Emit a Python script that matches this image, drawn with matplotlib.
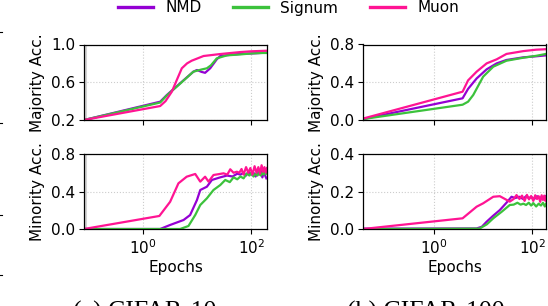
import matplotlib
matplotlib.use("Agg")
import matplotlib.pyplot as plt
from matplotlib.ticker import NullLocator
from matplotlib.lines import Line2D

# ---------------- data ----------------
series_names = ["NMD", "Signum", "Muon"]
colors = {"NMD": "#9400D3", "Signum": "#3CC23C", "Muon": "#FF1493"}

# CIFAR-10 majority accuracy
c10_maj_nmd_x = [0.081, 2.07, 2.75, 4.84, 8.5, 9.9, 12, 14, 17.4, 23, 26.7, 40, 63, 100, 150, 195]
c10_maj_nmd_y = [0.20, 0.394, 0.465, 0.589, 0.712, 0.73, 0.71, 0.70, 0.748, 0.843, 0.878, 0.89, 0.90, 0.905, 0.91, 0.915]
c10_maj_sig_x = [0.081, 2.07, 2.75, 4.84, 8.5, 12, 15.1, 18, 23, 35.5, 63, 100, 150, 195]
c10_maj_sig_y = [0.20, 0.385, 0.46, 0.585, 0.712, 0.735, 0.748, 0.78, 0.853, 0.885, 0.895, 0.905, 0.91, 0.91]
c10_maj_muon_x = [0.081, 2.07, 2.6, 3.4, 4.2, 5.2, 6.5, 7.9, 13.1, 26.7, 63, 100, 195]
c10_maj_muon_y = [0.20, 0.348, 0.40, 0.50, 0.624, 0.748, 0.80, 0.828, 0.878, 0.899, 0.92, 0.928, 0.934]

# CIFAR-100 majority accuracy
c100_maj_nmd_x = [0.037, 3.87, 5.0, 7.45, 11.9, 19, 30, 66, 120, 190]
c100_maj_nmd_y = [0.01, 0.23, 0.33, 0.44, 0.537, 0.60, 0.636, 0.664, 0.675, 0.685]
c100_maj_sig_x = [0.037, 3.87, 5.0, 6.36, 10.1, 16.2, 30, 66, 120, 190]
c100_maj_sig_y = [0.01, 0.162, 0.194, 0.265, 0.459, 0.565, 0.628, 0.66, 0.68, 0.70]
c100_maj_muon_x = [0.037, 3.87, 5.0, 7.45, 11.9, 19, 30, 66, 120, 190]
c100_maj_muon_y = [0.015, 0.30, 0.42, 0.512, 0.60, 0.643, 0.70, 0.73, 0.745, 0.75]

# CIFAR-10 minority accuracy
c10_min_nmd_x = [0.081, 2.07, 3.16, 5.6, 7.4, 9.9, 11.4, 15.1, 18.7, 26.7, 35.5, 45, 55, 63, 72, 80,
                 90, 100, 110, 120, 130, 140, 150, 160, 170, 180, 190]
c10_min_nmd_y = [0, 0, 0.043, 0.096, 0.149, 0.309, 0.416, 0.451, 0.523, 0.551, 0.57, 0.56, 0.59, 0.58,
                 0.60, 0.57, 0.61, 0.58, 0.60, 0.56, 0.61, 0.58, 0.62, 0.55, 0.60, 0.57, 0.54]
c10_min_sig_x = [0.081, 4.84, 6.9, 9.2, 11.4, 15.1, 20, 26.7, 33, 40, 47, 55, 63, 72, 83, 92, 100,
                 110, 120, 130, 140, 150, 160, 170, 180, 190]
c10_min_sig_y = [0, 0, 0.032, 0.149, 0.256, 0.327, 0.416, 0.469, 0.523, 0.50, 0.551, 0.53, 0.56, 0.54,
                 0.594, 0.57, 0.60, 0.56, 0.59, 0.57, 0.61, 0.57, 0.60, 0.58, 0.62, 0.59]
c10_min_muon_x = [0.081, 2.0, 3.16, 4.5, 6.4, 9.2, 11.4, 14, 16.2, 20, 25, 30.7, 36, 40.8, 47, 54, 60,
                  66, 72, 80, 88, 96, 105, 115, 125, 135, 145, 155, 165, 175, 185, 195]
c10_min_muon_y = [0, 0.139, 0.29, 0.487, 0.558, 0.587, 0.505, 0.558, 0.505, 0.576, 0.585, 0.594, 0.58,
                  0.637, 0.60, 0.611, 0.60, 0.64, 0.58, 0.66, 0.60, 0.65, 0.58, 0.67, 0.60, 0.66, 0.59,
                  0.68, 0.61, 0.66, 0.60, 0.65]

# CIFAR-100 minority accuracy
c100_min_nmd_x = [0.037, 7.45, 9.5, 11.9, 16, 22, 30, 38, 45, 55, 65, 75, 85, 95, 110, 125, 140, 155, 170, 190]
c100_min_nmd_y = [0.002, 0.003, 0.012, 0.039, 0.07, 0.101, 0.14, 0.172, 0.165, 0.172, 0.16, 0.175, 0.165,
                  0.17, 0.16, 0.175, 0.165, 0.17, 0.16, 0.175]
c100_min_sig_x = [0.037, 8.5, 12, 16.2, 24, 35, 42, 50, 58, 66, 75, 85, 95, 105, 120, 135, 150, 165, 180, 190]
c100_min_sig_y = [0, 0.002, 0.025, 0.057, 0.092, 0.128, 0.13, 0.14, 0.13, 0.135, 0.128, 0.14, 0.125,
                  0.138, 0.12, 0.135, 0.125, 0.14, 0.12, 0.135]
c100_min_muon_x = [0.037, 3.87, 7.45, 10.1, 16.2, 22, 28, 35, 42, 48, 55, 62, 70, 78, 86, 95, 105, 115,
                   125, 135, 145, 155, 165, 175, 185, 190]
c100_min_muon_y = [0, 0.057, 0.119, 0.137, 0.172, 0.175, 0.16, 0.146, 0.16, 0.181, 0.16, 0.178, 0.15,
                   0.182, 0.158, 0.176, 0.15, 0.18, 0.16, 0.175, 0.145, 0.18, 0.155, 0.178, 0.15, 0.17]

c10_xlim = (0.081, 195)
c100_xlim = (0.037, 190)
maj10_yticks = [0.2, 0.6, 1.0]
maj100_yticks = [0.0, 0.4, 0.8]
min10_yticks = [0.0, 0.4, 0.8]
min100_yticks = [0.0, 0.2, 0.4]
captions = ["(a) CIFAR-10", "(b) CIFAR-100"]

# ---------------- plot ----------------
plt.rcParams["font.family"] = ["DejaVu Sans"]
plt.rcParams["font.size"] = 11

W, H = 548, 306
fig = plt.figure(figsize=(W / 100, H / 100), dpi=100)

def axpx(x0, y0, x1, y1):
    return fig.add_axes([x0 / W, 1 - y1 / H, (x1 - x0) / W, (y1 - y0) / H])

ax_tl = axpx(84, 44.5, 267, 120)
ax_tr = axpx(363, 44.5, 546, 120)
ax_bl = axpx(84, 154, 267, 229)
ax_br = axpx(363, 154, 546, 229)

panels = [
    (ax_tl, [(c10_maj_nmd_x, c10_maj_nmd_y), (c10_maj_sig_x, c10_maj_sig_y), (c10_maj_muon_x, c10_maj_muon_y)],
     c10_xlim, maj10_yticks, "Majority Acc.", False, True),
    (ax_tr, [(c100_maj_nmd_x, c100_maj_nmd_y), (c100_maj_sig_x, c100_maj_sig_y), (c100_maj_muon_x, c100_maj_muon_y)],
     c100_xlim, maj100_yticks, "Majority Acc.", False, False),
    (ax_bl, [(c10_min_nmd_x, c10_min_nmd_y), (c10_min_sig_x, c10_min_sig_y), (c10_min_muon_x, c10_min_muon_y)],
     c10_xlim, min10_yticks, "Minority Acc.", True, True),
    (ax_br, [(c100_min_nmd_x, c100_min_nmd_y), (c100_min_sig_x, c100_min_sig_y), (c100_min_muon_x, c100_min_muon_y)],
     c100_xlim, min100_yticks, "Minority Acc.", True, False),
]

for ax, data, xlim, yt, ylab, bottom, leftcol in panels:
    for name, (xs, ys) in zip(series_names, data):
        ax.plot(xs, ys, color=colors[name], lw=1.6, label=name)
    ax.set_xscale("log")
    ax.set_xlim(*xlim)
    ax.set_ylim(yt[0], yt[-1])
    ax.set_yticks(yt)
    ax.set_yticklabels([f"{v:.1f}" for v in yt])
    ax.set_xticks([1, 100])
    ax.xaxis.set_minor_locator(NullLocator())
    ax.grid(True, ls=":", color="#cccccc", lw=0.8)
    ax.set_axisbelow(True)
    ax.tick_params(direction="out", length=3.5, width=0.8, labelsize=11, pad=3)
    ax.set_ylabel(ylab, fontsize=11, labelpad=4)
    if leftcol:
        ax.axvline(xlim[0] * 1.04, color="#d3d3d3", lw=2.2, zorder=0.5)
    if bottom:
        ax.set_xlabel("Epochs", fontsize=11, labelpad=2)
    else:
        ax.tick_params(labelbottom=False)
    for s in ax.spines.values():
        s.set_linewidth(0.9)

handles = [Line2D([0], [0], color=colors[n], lw=2.4) for n in series_names]
fig.legend(handles, series_names, loc="center", bbox_to_anchor=(288.5 / W, 1 - 8 / H),
           ncol=3, frameon=False, fontsize=11, handlelength=2.3, handletextpad=0.8,
           columnspacing=2.05, borderpad=0.2)

# captions (cut off at the bottom edge, as in the source figure)
fig.text(73 / W, (H - 318.5) / H, captions[0], family="Liberation Serif", fontsize=18.5,
         ha="left", va="baseline")
fig.text(347 / W, (H - 318.5) / H, captions[1], family="Liberation Serif", fontsize=18.5,
         ha="left", va="baseline")

# small tick marks of the neighbouring figure at the left edge
for yy in [32, 123, 215, 275]:
    fig.add_artist(Line2D([0 / W, 2 / W], [1 - yy / H, 1 - yy / H], color="black", lw=0.8))

fig.savefig("out.png", dpi=100)
